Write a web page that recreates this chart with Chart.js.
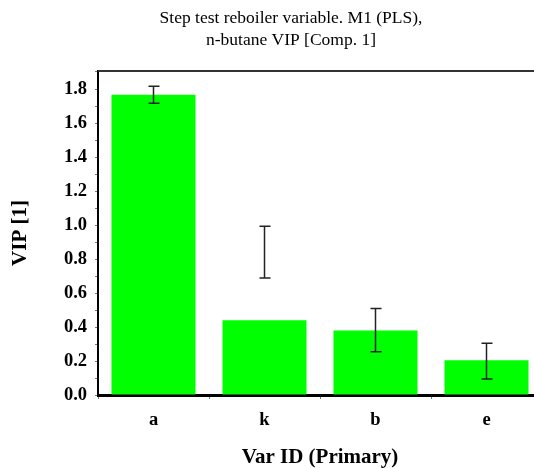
<!DOCTYPE html>
<html>
<head>
<meta charset="utf-8">
<script src="https://cdn.jsdelivr.net/npm/chart.js@4/dist/chart.umd.min.js"></script>
<style>
  html, body { margin: 0; padding: 0; background: #fff; overflow: hidden; }
  #wrap { width: 534px; height: 468px; overflow: hidden; }
</style>
</head>
<body>
<div id="wrap"><canvas id="c" width="582" height="468"></canvas></div>
<script>
const categories = ['a', 'k', 'b', 'e'];
const vip = [1.77, 0.44, 0.38, 0.205];
const errLow = [1.72, 0.69, 0.255, 0.095];
const errHigh = [1.82, 0.995, 0.51, 0.305];
const titleLines = ['Step test reboiler variable. M1 (PLS),', 'n-butane VIP [Comp. 1]'];

const serif = '"Liberation Serif", "Times New Roman", serif';

// title, error bars and the top frame line
const extras = {
    id: 'extras',
    afterDatasetsDraw(chart) {
        const ctx = chart.ctx;
        const x = chart.scales.x, y = chart.scales.y;
        const area = chart.chartArea;
        ctx.save();
        ctx.strokeStyle = '#222';
        ctx.lineWidth = 1.5;
        categories.forEach((c, i) => {
            const px = x.getPixelForValue(i);
            const top = y.getPixelForValue(errHigh[i]);
            const bot = y.getPixelForValue(errLow[i]);
            ctx.beginPath();
            ctx.moveTo(px, top); ctx.lineTo(px, bot);
            ctx.moveTo(px - 5, top); ctx.lineTo(px + 6, top);
            ctx.moveTo(px - 5, bot); ctx.lineTo(px + 6, bot);
            ctx.stroke();
        });
        ctx.strokeStyle = '#333';
        ctx.lineWidth = 2;
        ctx.beginPath();
        ctx.moveTo(area.left, area.top);
        ctx.lineTo(area.right + 10, area.top);
        ctx.stroke();

        ctx.fillStyle = '#000';
        ctx.font = '17.5px ' + serif;
        ctx.textAlign = 'center';
        ctx.textBaseline = 'middle';
        titleLines.forEach((t, i) => ctx.fillText(t, 291, 18 + i * 22));
        ctx.restore();
    }
};

new Chart(document.getElementById('c'), {
    type: 'bar',
    data: {
        labels: categories,
        datasets: [{
            data: vip,
            backgroundColor: '#00ff00',
            borderWidth: 0,
            categoryPercentage: 0.757,
            barPercentage: 1
        }]
    },
    options: {
        responsive: false,
        animation: false,
        layout: { padding: { left: 0, right: 40, top: 71, bottom: 0 } },
        plugins: {
            legend: { display: false },
            tooltip: { enabled: false },
            title: { display: false }
        },
        scales: {
            x: {
                grid: { display: true, drawOnChartArea: false, tickLength: 4, color: '#777' },
                border: { color: '#000', width: 3 },
                ticks: { color: '#000', padding: 10, font: { family: serif, size: 18.5, weight: 'bold', lineHeight: 1.2 } },
                title: {
                    display: true,
                    text: 'Var ID (Primary)',
                    color: '#000',
                    font: { family: serif, size: 21, weight: 'bold', lineHeight: 1 },
                    padding: { top: 0, bottom: 0 }
                },
                afterFit(s) { s.height = 73; }
            },
            y: {
                min: 0,
                max: 1.91,
                grid: { display: true, drawOnChartArea: false, tickLength: 3, color: '#777' },
                border: { color: '#000', width: 2 },
                ticks: {
                    stepSize: 0.1,
                    autoSkip: false,
                    color: '#000',
                    padding: 8,
                    font: { family: serif, size: 18.5, weight: 'bold' },
                    callback: v => Math.round(v * 10) % 2 === 0 ? v.toFixed(1) : ''
                },
                title: {
                    display: true,
                    text: 'VIP [1]',
                    color: '#000',
                    font: { family: serif, size: 21, weight: 'bold', lineHeight: 1 },
                    padding: { top: 10.5, bottom: 0 }
                },
                afterFit(s) { s.width = 98; }
            }
        }
    },
    plugins: [extras]
});
</script>
</body>
</html>
